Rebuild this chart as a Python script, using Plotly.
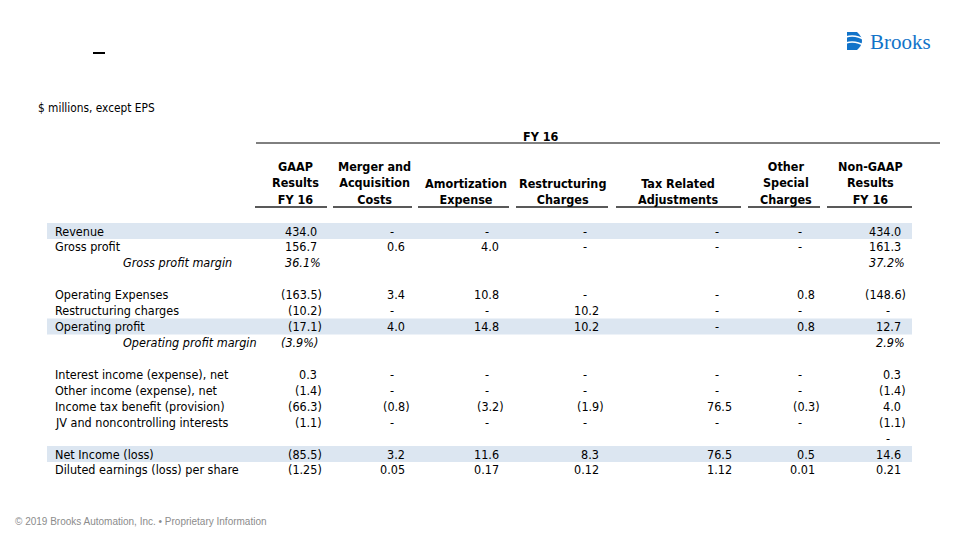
import plotly.graph_objects as go

# ---------------- data ----------------
row_labels = ["Revenue", "Gross profit", "Gross profit margin", "",
              "Operating Expenses", "Restructuring charges", "Operating profit",
              "Operating profit margin", "",
              "Interest income (expense), net", "Other income (expense), net",
              "Income tax benefit (provision)", "JV and noncontrolling interests", "",
              "Net Income (loss)", "Diluted earnings (loss) per share"]
pct_rows = [2, 7]
eps_rows = [15]
shaded_rows = [0, 6, 14]

col_headers = ["GAAP<br>Results<br>FY 16", "Merger and<br>Acquisition<br>Costs",
               "Amortization<br>Expense", "Restructuring<br>Charges",
               "Tax Related<br>Adjustments", "Other<br>Special<br>Charges",
               "Non-GAAP<br>Results<br>FY 16"]

gaap     = [434.0, 156.7, 36.1, None, -163.5, -10.2, -17.1, -3.9, None, 0.3, -1.4, -66.3, -1.1, None, -85.5, -1.25]
merger   = [0, 0.6, None, None, 3.4, 0, 4.0, None, None, 0, 0, -0.8, 0, None, 3.2, 0.05]
amort    = [0, 4.0, None, None, 10.8, 0, 14.8, None, None, 0, 0, -3.2, 0, None, 11.6, 0.17]
restruct = [0, 0, None, None, 0, 10.2, 10.2, None, None, 0, 0, -1.9, 0, None, 8.3, 0.12]
taxadj   = [0, 0, None, None, 0, 0, 0, None, None, 0, 0, 76.5, 0, None, 76.5, 1.12]
other    = [0, 0, None, None, 0.8, 0, 0.8, None, None, 0, 0, -0.3, 0, None, 0.5, 0.01]
nongaap  = [434.0, 161.3, 37.2, None, -148.6, 0, 12.7, 2.9, None, 0.3, -1.4, 4.0, -1.1, 0, 14.6, 0.21]
columns = [gaap, merger, amort, restruct, taxadj, other, nongaap]

period_label = "FY 16"
units_note = "$ millions, except EPS"
footer = "© 2019 Brooks Automation, Inc. • Proprietary Information"

# ---------------- layout (positions / styles) ----------------
FONT = "Tahoma, 'DejaVu Sans Condensed', 'Liberation Sans', sans-serif"
BLACK = "#000000"
col_center = [295, 374, 466, 562, 678, 786, 870]
col_digit_right = [319, 407, 501, 601, 734, 817, 903]
col_dash_x = [300, 392, 487, 585, 717, 800, 888]
col_ul = [(255, 327), (333, 412), (418, 509), (516, 608), (616, 741), (748, 820), (827, 912)]
row_y0, row_dy = 231, 15.93
BODY = 12.5

fig = go.Figure()
annotations = []
shapes = []

def txt(x, y, s, size=BODY, anchor="left", bold=False, italic=False, color=BLACK, family=FONT):
    if bold:
        s = "<b>" + s + "</b>"
    if italic:
        s = "<i>" + s + "</i>"
    annotations.append(dict(x=x, y=y, xref="x", yref="y", text=s, showarrow=False,
                            xanchor=anchor, yanchor="middle", align="center",
                            font=dict(size=size, color=color, family=family)))

# shaded rows
for r in shaded_rows:
    y = row_y0 + r * row_dy
    shapes.append(dict(type="rect", xref="x", yref="y", x0=47, x1=912, y0=y - 8, y1=y + 8,
                       fillcolor="#DCE6F1", line=dict(width=0), layer="below"))

# title dash
shapes.append(dict(type="line", xref="x", yref="y", x0=93, x1=105, y0=53, y1=53,
                   line=dict(color=BLACK, width=2)))

# units
txt(36, 108, units_note, size=11.8)

# period header
txt(541, 136, period_label, size=BODY, anchor="center", bold=True)
shapes.append(dict(type="line", xref="x", yref="y", x0=256, x1=940, y0=143, y1=143,
                   line=dict(color=BLACK, width=1)))

# column headers
for i, h in enumerate(col_headers):
    annotations.append(dict(x=col_center[i], y=209, xref="x", yref="y", text="<b>" + h + "</b>",
                            showarrow=False, xanchor="center", yanchor="bottom", align="center",
                            font=dict(size=BODY, color=BLACK, family=FONT)))
    x0, x1 = col_ul[i]
    shapes.append(dict(type="line", xref="x", yref="y", x0=x0, x1=x1, y0=207, y1=207,
                       line=dict(color="#595959", width=2)))

# row labels
for r, lab in enumerate(row_labels):
    if not lab:
        continue
    y = row_y0 + r * row_dy
    if r in pct_rows:
        txt(121, y, lab, italic=True)
    else:
        txt(53, y, lab)

# values
for c, col in enumerate(columns):
    for r, v in enumerate(col):
        if v is None:
            continue
        y = row_y0 + r * row_dy
        if r in pct_rows:
            s = f"{abs(v):.1f}%"
            if v < 0:
                txt(col_digit_right[c] + 1, y, "(" + s + ")", italic=True, anchor="right")
            else:
                txt(col_digit_right[c] + 4, y, s, italic=True, anchor="right")
            continue
        if v == 0:
            txt(col_dash_x[c], y, "-", anchor="center")
            continue
        dec = 2 if r in eps_rows else 1
        s = f"{abs(v):,.{dec}f}"
        if v < 0:
            txt(col_digit_right[c] + 5, y, "(" + s + ")", anchor="right")
        else:
            txt(col_digit_right[c], y, s, anchor="right")

# footer
txt(13, 521, footer, size=10, color="#8C8C8C", family="'Liberation Sans', Arial, sans-serif")

# logo
BLUE = "#1173C9"
shapes.append(dict(type="path", xref="x", yref="y",
                   path="M847,32 L857,32 Q867,41 857,50 L847,50 Z",
                   fillcolor=BLUE, line=dict(width=0)))
for yy in (37, 43):
    shapes.append(dict(type="path", xref="x", yref="y",
                       path=f"M846,{yy} Q855,{yy - 3} 865,{yy + 3}",
                       line=dict(color="white", width=1.5)))
txt(868, 42, "Brooks", size=21, color=BLUE, family="'Liberation Serif', serif")

# The page body has an 8px margin; shift the data window so page pixels match.
OFF = 8
fig.update_layout(
    width=960 - OFF, height=540 - OFF,
    margin=dict(l=0, r=0, t=0, b=0),
    paper_bgcolor="white", plot_bgcolor="white",
    xaxis=dict(range=[OFF, 960], visible=False, fixedrange=True),
    yaxis=dict(range=[540, OFF], visible=False, fixedrange=True),
    annotations=annotations, shapes=shapes, showlegend=False,
)
fig.write_html("out.html")
